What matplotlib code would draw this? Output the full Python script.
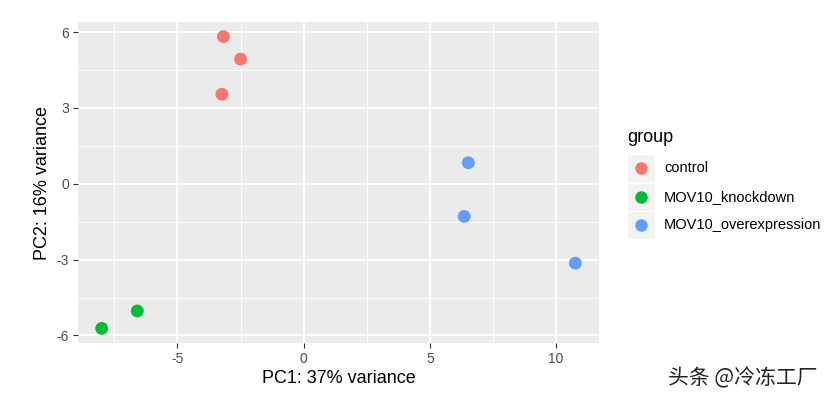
import matplotlib
matplotlib.use("Agg")
import matplotlib.pyplot as plt
from matplotlib.patches import Rectangle
from matplotlib.lines import Line2D

plt.rcParams['font.family'] = ['Liberation Sans', 'DejaVu Sans']

groups = ["control", "MOV10_knockdown", "MOV10_overexpression"]
colors = ["#F8766D", "#00BA38", "#619CFF"]
pc1 = {
    "control": [-3.18, -2.50, -3.24],
    "MOV10_knockdown": [-8.00, -6.59],
    "MOV10_overexpression": [6.52, 6.36, 10.76],
}
pc2 = {
    "control": [5.82, 4.93, 3.54],
    "MOV10_knockdown": [-5.72, -5.03],
    "MOV10_overexpression": [0.83, -1.29, -3.14],
}
xticks = [-5, 0, 5, 10]
yticks = [-6, -3, 0, 3, 6]
xlabel = "PC1: 37% variance"
ylabel = "PC2: 16% variance"
legend_title = "group"
watermark = "头条 @冷冻工厂"

W, H = 830, 400
fig = plt.figure(figsize=(W / 100, H / 100), dpi=100)
ax = fig.add_axes([78 / W, 1 - 343 / H, (599 - 78) / W, (343 - 22) / H])
ax.set_facecolor("#EBEBEB")

allx = [v for g in groups for v in pc1[g]]
ally = [v for g in groups for v in pc2[g]]
rx = max(allx) - min(allx)
ry = max(ally) - min(ally)
ax.set_xlim(min(allx) - 0.05 * rx, max(allx) + 0.05 * rx)
ax.set_ylim(min(ally) - 0.05 * ry, max(ally) + 0.05 * ry)

# grid
for v in xticks:
    ax.axvline(v, color="white", lw=1.3, zorder=1)
for v in yticks:
    ax.axhline(v, color="white", lw=1.3, zorder=1)
for i in range(len(xticks) + 1):
    m = xticks[0] - 2.5 + 5 * i
    ax.axvline(m, color="white", lw=0.65, zorder=1)
for i in range(len(yticks) + 1):
    m = yticks[0] - 1.5 + 3 * i
    ax.axhline(m, color="white", lw=0.65, zorder=1)

for g, c in zip(groups, colors):
    ax.scatter(pc1[g], pc2[g], s=85, color=c, edgecolors="none", zorder=3)

for s in ax.spines.values():
    s.set_visible(False)
ax.set_xticks(xticks)
ax.set_yticks(yticks)
ax.set_xticklabels([str(v) for v in xticks])
ax.set_yticklabels([str(v) for v in yticks])
ax.tick_params(axis="both", length=3.5, width=0.8, color="#333333",
               labelcolor="#4D4D4D", labelsize=10, pad=3)
ax.set_xlabel(xlabel, fontsize=13, color="black", labelpad=3)
ax.set_ylabel(ylabel, fontsize=13, color="black", labelpad=4)

# legend (ggplot style)
fig.text(627 / W, 1 - 138 / H, legend_title, fontsize=13, va="center", ha="left")
key = 28
rows = [168, 197, 225]
for g, c, y in zip(groups, colors, rows):
    fig.add_artist(Rectangle(((627) / W, 1 - (y + key / 2) / H), key / W, key / H,
                             transform=fig.transFigure, facecolor="#F2F2F2",
                             edgecolor="white", lw=1))
    fig.add_artist(Line2D([(627 + key / 2) / W], [1 - y / H], marker="o",
                          markersize=9, color=c, markeredgewidth=0,
                          transform=fig.transFigure, linestyle="none"))
    fig.text(664 / W, 1 - y / H, g, fontsize=10.5, va="center", ha="left", color="black")

fig.text(818 / W, 1 - 378 / H, watermark, fontsize=15, ha="right", va="center",
         family=["Noto Sans CJK SC", "DejaVu Sans"], color="#222222")

fig.savefig("out.png", dpi=100)
